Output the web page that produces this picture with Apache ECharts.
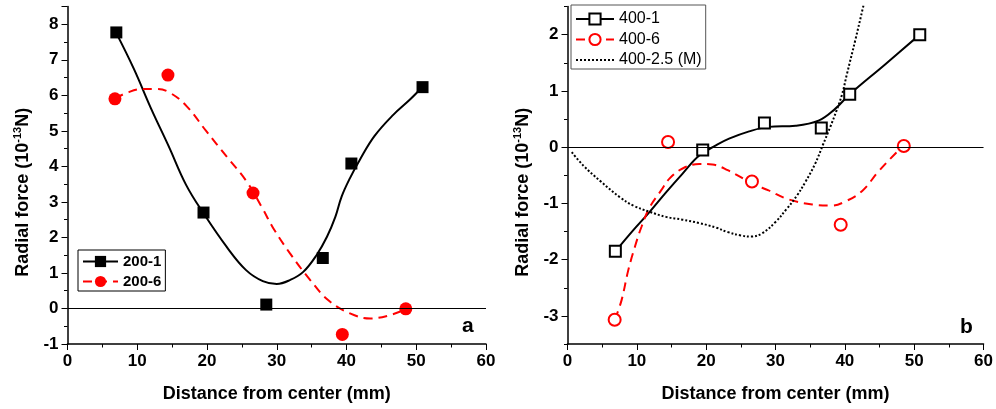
<!DOCTYPE html>
<html>
<head>
<meta charset="utf-8">
<script src="https://cdn.jsdelivr.net/npm/echarts@6/dist/echarts.min.js"></script>
<style>html,body{margin:0;padding:0;background:#fff}#c{width:996px;height:409px}</style>
</head>
<body>
<div id="c"></div>
<script>
// ---------- tick labels ----------
const xTicks = [0, 10, 20, 30, 40, 50, 60];
const yTicksA = [-1, 0, 1, 2, 3, 4, 5, 6, 7, 8];
const yTicksB = [-3, -2, -1, 0, 1, 2];

// ---------- Panel a : measured points ----------
const pts200_1_x = [7, 19.5, 28.5, 36.6, 40.7, 50.9];
const pts200_1_y = [7.77, 2.7, 0.11, 1.42, 4.08, 6.23];
const pts200_6_x = [6.8, 14.4, 26.6, 39.4, 48.5];
const pts200_6_y = [5.9, 6.57, 3.25, -0.73, -0.01];

// ---------- Panel a : fitted curves ----------
const fit200_1_x = [7, 9.5, 12, 14.5, 17, 19.5, 22.8, 25.6, 28.0, 30.0, 31.9, 33.8, 35.7, 37.2, 38.4, 39.3, 40.5, 41.9, 44.0, 46.7, 49.1, 50.9];
const fit200_1_y = [7.75, 6.75, 5.62, 4.57, 3.48, 2.68, 1.74, 1.08, 0.77, 0.69, 0.8, 1.03, 1.5, 2.02, 2.58, 3.15, 3.67, 4.18, 4.85, 5.45, 5.88, 6.24];
const fit200_6_x = [6.8, 8.5, 10.9, 12.8, 14.7, 17.1, 19.9, 22.8, 25.7, 28.0, 29.5, 31.9, 34.8, 37.4, 40.5, 43.4, 46.2, 48.5];
const fit200_6_y = [5.9, 6.07, 6.18, 6.18, 6.07, 5.69, 4.99, 4.28, 3.57, 2.8, 2.26, 1.55, 0.8, 0.23, -0.14, -0.28, -0.19, -0.02];

// ---------- Panel b : measured points ----------
const pts400_1_x = [6.9, 19.5, 28.4, 36.6, 40.7, 50.8];
const pts400_1_y = [-1.85, -0.05, 0.43, 0.34, 0.94, 2.0];
const pts400_6_x = [6.8, 14.5, 26.6, 39.4, 48.5];
const pts400_6_y = [-3.07, 0.09, -0.61, -1.38, 0.02];

// ---------- Panel b : fitted / model curves ----------
const fit400_1_x = [6.93, 9.46, 11.85, 14.24, 16.6, 19.0, 21.4, 23.3, 26.2, 29.0, 32.9, 36.2, 38.6, 40.7, 45.8, 50.8];
const fit400_1_y = [-1.85, -1.48, -1.15, -0.8, -0.47, -0.15, 0.03, 0.15, 0.28, 0.36, 0.38, 0.47, 0.68, 0.94, 1.47, 2.0];
const fit400_6_x = [6.83, 7.8, 8.74, 9.7, 10.66, 11.85, 13.5, 14.7, 16.6, 19.0, 20.9, 23.1, 26.7, 29.0, 31.9, 35.3, 38.1, 40.0, 42.5, 44.8, 47.4, 48.5];
const fit400_6_y = [-3.07, -2.72, -2.2, -1.78, -1.42, -1.07, -0.77, -0.56, -0.38, -0.3, -0.31, -0.41, -0.65, -0.77, -0.93, -1.02, -1.04, -0.97, -0.78, -0.44, -0.1, 0.02];
const fit400_25_x = [0.62, 2.3, 4.7, 7.55, 9.5, 11.85, 14.2, 16.6, 19.0, 21.4, 23.1, 25.0, 26.5, 28.1, 30.0, 31.6, 33.1, 34.3, 35.7, 36.9, 37.9, 38.8, 39.6, 40.3, 41.5, 42.65, 43.2];
const fit400_25_y = [-0.09, -0.33, -0.6, -0.89, -1.04, -1.15, -1.24, -1.29, -1.35, -1.43, -1.51, -1.57, -1.59, -1.53, -1.33, -1.1, -0.86, -0.62, -0.3, 0.06, 0.36, 0.65, 0.94, 1.3, 1.9, 2.5, 2.8];

const names = ['200-1', '200-6', '400-1', '400-6', '400-2.5 (M)'];

function zip(xs, ys) { return xs.map((x, i) => [x, ys[i]]); }

const FONT = "'Liberation Sans', Arial, sans-serif";
const RED = '#ff0000';

const nameStyle = {
  fontFamily: FONT, fontSize: 18, fontWeight: 'bold', color: '#000'
};

function xAxisFor(gi) {
  return {
    type: 'value', gridIndex: gi, min: xTicks[0], max: xTicks[xTicks.length - 1], interval: 10,
    name: 'Distance from center (mm)', nameLocation: 'middle', nameGap: 41,
    nameTextStyle: nameStyle,
    axisLine: { show: true, onZero: false, lineStyle: { color: '#000', width: 1.5 } },
    axisTick: { show: true, inside: false, length: 6, lineStyle: { color: '#000', width: 1 } },
    minorTick: { show: true, splitNumber: 2, length: 3.5, lineStyle: { color: '#000', width: 1 } },
    splitLine: { show: false },
    axisLabel: { fontFamily: FONT, fontSize: 17, fontWeight: 'bold', color: '#000', margin: 9 }
  };
}
function yNameStyle() {
  return {
    fontFamily: FONT, fontSize: 18, fontWeight: 'bold', color: '#000', padding: [0, 34, 0, 0],
    rich: {
      t: { fontFamily: FONT, fontSize: 18, fontWeight: 'bold', color: '#000', lineHeight: 22 },
      s: { fontFamily: FONT, fontSize: 11, fontWeight: 'bold', color: '#000', verticalAlign: 'top', lineHeight: 13 }
    }
  };
}
const yName = '{t|Radial force (10}{s|-13}{t|N)}';

const yAxisA = {
  type: 'value', gridIndex: 0, min: -1, max: 8.5, interval: 1,
  name: yName, nameLocation: 'middle', nameGap: 33, nameTextStyle: yNameStyle(),
  axisLine: { show: true, onZero: false, lineStyle: { color: '#000', width: 1.5 } },
  axisTick: { show: true, inside: false, length: 6, lineStyle: { color: '#000', width: 1 } },
  minorTick: { show: true, splitNumber: 2, length: 3.5, lineStyle: { color: '#000', width: 1 } },
  splitLine: { show: false },
  axisLabel: {
    fontFamily: FONT, fontSize: 17, fontWeight: 'bold', color: '#000', margin: 9,
    formatter: v => (yTicksA.indexOf(v) >= 0 ? String(v) : '')
  }
};
const yAxisB = {
  type: 'value', gridIndex: 1, min: -3.5, max: 2.5, interval: 0.5,
  name: yName, nameLocation: 'middle', nameGap: 33, nameTextStyle: yNameStyle(),
  axisLine: { show: true, onZero: false, lineStyle: { color: '#000', width: 1.5 } },
  axisTick: { show: true, inside: false, length: 6, customValues: yTicksB, lineStyle: { color: '#000', width: 1 } },
  minorTick: { show: false },
  splitLine: { show: false },
  axisLabel: {
    fontFamily: FONT, fontSize: 17, fontWeight: 'bold', color: '#000', margin: 9,
    customValues: yTicksB,
    formatter: v => (yTicksB.indexOf(v) >= 0 ? String(v) : '')
  }
};
// minor ticks for panel b (every 0.5)
const yAxisBMinor = {
  type: 'value', gridIndex: 1, min: -3.5, max: 2.5, interval: 0.5, position: 'left',
  axisLine: { show: false, onZero: false },
  axisTick: { show: true, inside: false, length: 3.5, lineStyle: { color: '#000', width: 1 } },
  axisLabel: { show: false },
  splitLine: { show: false }
};

const zeroLine = {
  silent: true, symbol: ['none', 'none'], label: { show: false },
  lineStyle: { color: '#000', width: 1, type: 'solid' },
  emphasis: { disabled: true },
  data: [{ yAxis: 0 }]
};

const option = {
  animation: false,
  backgroundColor: '#fff',
  textStyle: { fontFamily: FONT },
  grid: [
    { left: 67.5, right: 510, top: 6.5, bottom: 65 },
    { left: 567.5, right: 10, top: 6.5, bottom: 65 }
  ],
  xAxis: [xAxisFor(0), xAxisFor(1)],
  yAxis: [yAxisA, yAxisB, yAxisBMinor],
  title: [
    { text: 'a', left: 462, top: 316, padding: 0, textStyle: { fontFamily: FONT, fontSize: 21, fontWeight: 'bold', color: '#000' } },
    { text: 'b', left: 960, top: 317, padding: 0, textStyle: { fontFamily: FONT, fontSize: 21, fontWeight: 'bold', color: '#000' } }
  ],
  legend: [
    {
      data: [names[0], names[1]], orient: 'vertical', left: 78, top: 250,
      itemWidth: 35, itemHeight: 14, itemGap: 5, padding: [4, 4, 2, 4],
      borderColor: '#000', borderWidth: 1, backgroundColor: '#fff',
      textStyle: { fontFamily: FONT, fontSize: 15, fontWeight: 'bold', color: '#000' },
      selectedMode: false
    },
    {
      data: [names[2], names[3], names[4]], orient: 'vertical', left: 571, top: 5,
      itemWidth: 38, itemHeight: 14, itemGap: 4.5, padding: [6, 4, 1, 4],
      borderColor: '#555', borderWidth: 1, backgroundColor: '#fff',
      textStyle: { fontFamily: FONT, fontSize: 16, fontWeight: 'normal', color: '#000' },
      selectedMode: false
    }
  ],
  series: [
    // panel a curves
    { name: names[0], type: 'line', xAxisIndex: 0, yAxisIndex: 0, smooth: 0.4, showSymbol: false, symbol: 'rect',
      data: zip(fit200_1_x, fit200_1_y), itemStyle: { color: '#000' }, lineStyle: { color: '#000', width: 2 }, z: 3 },
    { name: names[1], type: 'line', xAxisIndex: 0, yAxisIndex: 0, smooth: 0.4, showSymbol: false, symbol: 'circle',
      data: zip(fit200_6_x, fit200_6_y), itemStyle: { color: RED }, lineStyle: { color: RED, width: 2, type: [9, 6] }, z: 3 },
    // panel a points
    { name: names[0], type: 'scatter', xAxisIndex: 0, yAxisIndex: 0, symbol: 'rect', symbolSize: 12,
      data: zip(pts200_1_x, pts200_1_y), itemStyle: { color: '#000', opacity: 1 }, z: 4, markLine: zeroLine },
    { name: names[1], type: 'scatter', xAxisIndex: 0, yAxisIndex: 0, symbol: 'circle', symbolSize: 13,
      data: zip(pts200_6_x, pts200_6_y), itemStyle: { color: RED, opacity: 1 }, z: 4 },
    // panel b curves
    { name: names[2], type: 'line', xAxisIndex: 1, yAxisIndex: 1, smooth: 0.4, showSymbol: false, symbol: 'emptyRect',
      data: zip(fit400_1_x, fit400_1_y), itemStyle: { color: '#000' }, lineStyle: { color: '#000', width: 2 }, z: 3 },
    { name: names[3], type: 'line', xAxisIndex: 1, yAxisIndex: 1, smooth: 0.4, showSymbol: false, symbol: 'emptyCircle',
      data: zip(fit400_6_x, fit400_6_y), itemStyle: { color: RED }, lineStyle: { color: RED, width: 2, type: [9, 6] }, z: 3 },
    { name: names[4], type: 'line', xAxisIndex: 1, yAxisIndex: 1, smooth: 0.4, showSymbol: false, symbol: 'none',
      data: zip(fit400_25_x, fit400_25_y), itemStyle: { color: 'rgba(0,0,0,0)' }, lineStyle: { color: '#000', width: 2, type: [2, 2] }, z: 3 },
    // panel b points
    { name: names[2], type: 'scatter', xAxisIndex: 1, yAxisIndex: 1, symbol: 'emptyRect', symbolSize: 11,
      data: zip(pts400_1_x, pts400_1_y), itemStyle: { color: '#000', borderWidth: 1.5, opacity: 1 }, z: 4, markLine: zeroLine },
    { name: names[3], type: 'scatter', xAxisIndex: 1, yAxisIndex: 1, symbol: 'emptyCircle', symbolSize: 12,
      data: zip(pts400_6_x, pts400_6_y), itemStyle: { color: RED, borderWidth: 1.5, opacity: 1 }, z: 4 }
  ]
};

const chart = echarts.init(document.getElementById('c'), null, { renderer: 'canvas' });
chart.setOption(option);
</script>
</body>
</html>
